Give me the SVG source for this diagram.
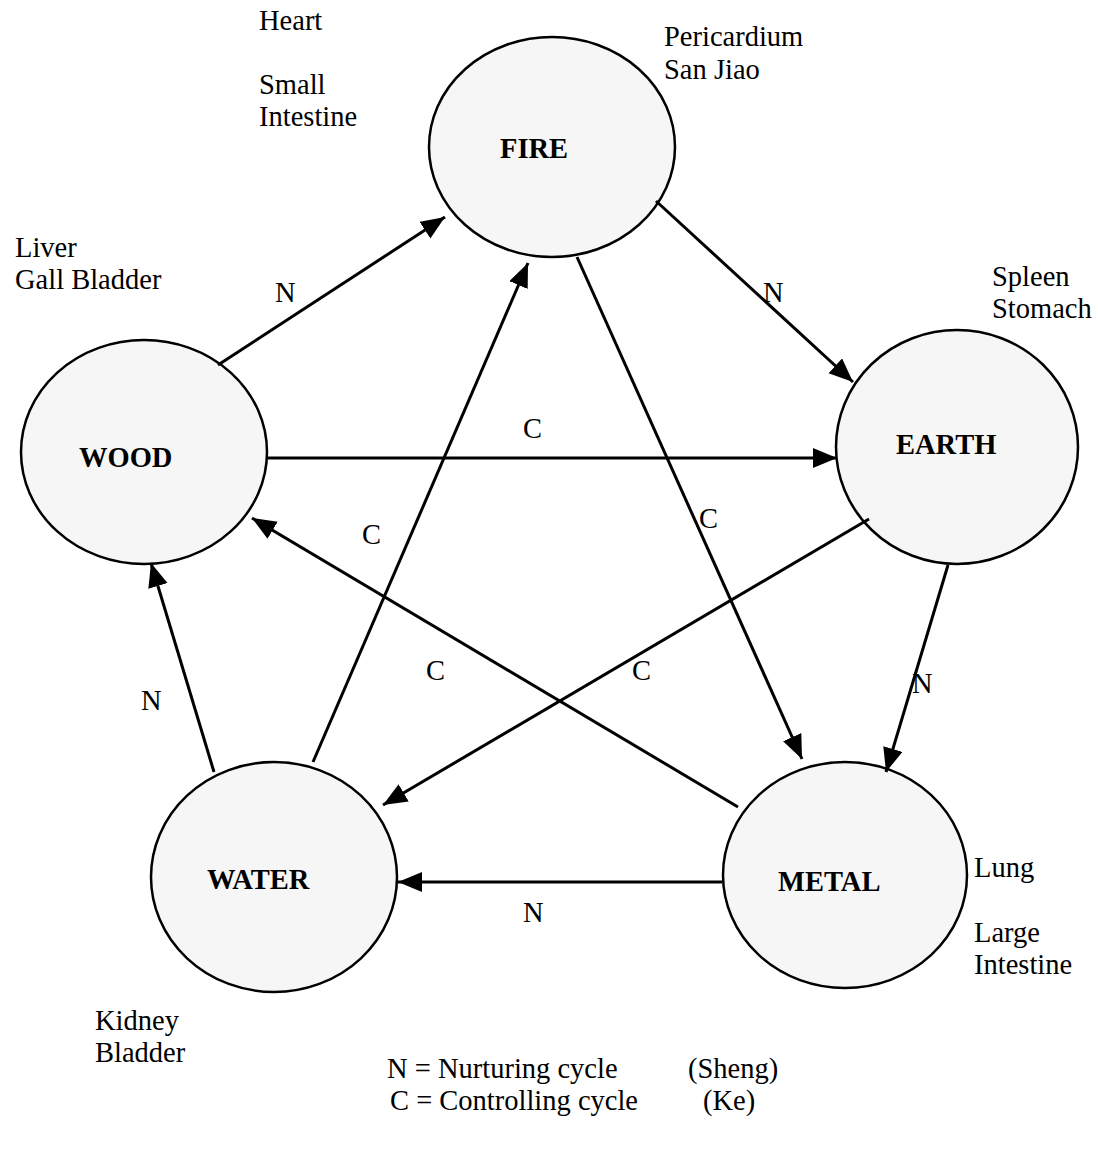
<svg xmlns="http://www.w3.org/2000/svg" width="1098" height="1153" viewBox="0 0 1098 1153">
<style>
text{font-family:"Liberation Serif","Times New Roman",serif;font-size:28.5px;fill:#000}
.b{font-weight:bold}
.node ellipse{fill:#f6f6f6;stroke:#000;stroke-width:2.5}
.conn line{stroke:#000;stroke-width:3}
.arr{marker-end:url(#ah)}
</style>
<defs>
<marker id="ah" markerUnits="userSpaceOnUse" markerWidth="26" markerHeight="22" refX="24" refY="10" orient="auto">
<path d="M0,0 L24,10 L0,20 z" fill="#000"/>
</marker>
</defs>
<rect width="1098" height="1153" fill="#fff"/>
<g id="fire" class="node"><ellipse cx="552" cy="147" rx="123" ry="110"/><text class="b" x="500" y="158">FIRE</text></g>
<g id="wood" class="node"><ellipse cx="144" cy="452" rx="123" ry="112"/><text class="b" x="79" y="467">WOOD</text></g>
<g id="earth" class="node"><ellipse cx="957" cy="447" rx="121" ry="117"/><text class="b" x="896" y="454">EARTH</text></g>
<g id="water" class="node"><ellipse cx="274" cy="877" rx="123" ry="115"/><text class="b" x="207" y="889">WATER</text></g>
<g id="metal" class="node"><ellipse cx="845" cy="875" rx="122" ry="113"/><text class="b" x="778" y="891">METAL</text></g>
<g id="connectors" class="conn">
<line class="arr" x1="218" y1="365" x2="445" y2="217"/>
<line class="arr" x1="656" y1="201" x2="853" y2="382"/>
<line class="arr" x1="267" y1="458" x2="837" y2="458"/>
<line class="arr" x1="313" y1="762" x2="528" y2="263"/>
<line class="arr" x1="577" y1="257" x2="802" y2="759"/>
<line class="arr" x1="869" y1="519" x2="383" y2="805"/>
<line class="arr" x1="738" y1="807" x2="252" y2="518"/>
<line class="arr" x1="948" y1="565" x2="886" y2="772"/>
<line class="arr" x1="722" y1="882" x2="398" y2="882"/>
<line class="arr" x1="214" y1="772" x2="151" y2="563"/>
</g>
<g id="connector-labels">
<text x="275" y="302">N</text>
<text x="763" y="302">N</text>
<text x="523" y="438">C</text>
<text x="362" y="544">C</text>
<text x="699" y="528">C</text>
<text x="632" y="680">C</text>
<text x="426" y="680">C</text>
<text x="912" y="693">N</text>
<text x="523" y="922">N</text>
<text x="141" y="710">N</text>
</g>
<g id="organ-labels">
<text x="259" y="30">Heart</text>
<text x="259" y="94">Small</text>
<text x="259" y="126">Intestine</text>
<text x="664" y="46">Pericardium</text>
<text x="664" y="79">San Jiao</text>
<text x="15" y="257">Liver</text>
<text x="15" y="289">Gall Bladder</text>
<text x="992" y="286">Spleen</text>
<text x="992" y="318">Stomach</text>
<text x="974" y="877">Lung</text>
<text x="974" y="942">Large</text>
<text x="974" y="974">Intestine</text>
<text x="95" y="1030">Kidney</text>
<text x="95" y="1062">Bladder</text>
</g>
<g id="legend">
<text x="387" y="1078">N = Nurturing cycle</text>
<text x="688" y="1078">(Sheng)</text>
<text x="390" y="1110">C = Controlling cycle</text>
<text x="703" y="1110">(Ke)</text>
</g>
</svg>
